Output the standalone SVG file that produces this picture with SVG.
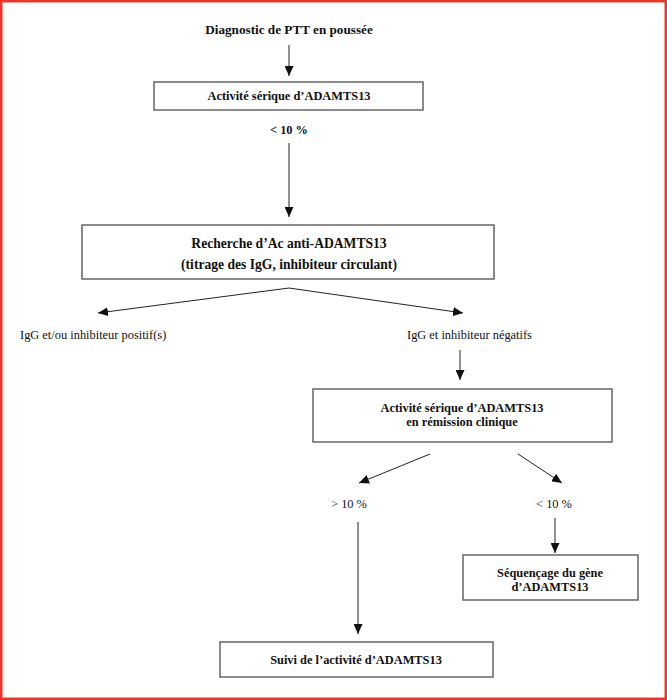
<svg xmlns="http://www.w3.org/2000/svg" width="667" height="700" viewBox="0 0 667 700">
<style>
.bt{font-family:"Liberation Serif","Times New Roman",serif;font-size:12.4px;font-weight:bold;fill:#111;text-anchor:middle}
.big{font-size:13.6px}
.rt{font-family:"Liberation Serif","Times New Roman",serif;font-size:12.4px;fill:#111}
.box{fill:#fff;stroke:#666;stroke-width:1.5}
.ln{stroke:#222;stroke-width:1;fill:none;marker-end:url(#ah)}
</style>
<defs>
<marker id="ah" markerUnits="userSpaceOnUse" markerWidth="10" markerHeight="9" refX="10" refY="4.5" orient="auto">
<path d="M0,0 L10,4.5 L0,9 z" fill="#111"/>
</marker>
</defs>
<rect x="0" y="0" width="667" height="700" fill="#fff"/>
<rect x="1.25" y="1.25" width="664.5" height="697.5" fill="none" stroke="#e8372c" stroke-width="2.5"/>
<g id="connectors">
<line class="ln" x1="289" y1="45" x2="289" y2="76"/>
<line class="ln" x1="289" y1="143" x2="289" y2="217"/>
<line class="ln" x1="289" y1="288" x2="98" y2="313"/>
<line class="ln" x1="289" y1="288" x2="463" y2="313"/>
<line class="ln" x1="460" y1="350" x2="460" y2="380"/>
<line class="ln" x1="430" y1="454" x2="359" y2="483"/>
<line class="ln" x1="518" y1="454" x2="562" y2="483"/>
<line class="ln" x1="358" y1="522" x2="358" y2="634"/>
<line class="ln" x1="555" y1="518" x2="555" y2="553"/>
</g>
<g id="start"><text class="bt" x="289" y="34" style="font-size:13.2px">Diagnostic de PTT en poussée</text></g>
<g id="activite1"><rect class="box" x="154" y="82" width="269" height="28"/><text class="bt" x="289" y="100">Activité sérique d’ADAMTS13</text></g>
<g id="lt10a"><text class="bt" x="289" y="134">&lt; 10 %</text></g>
<g id="recherche"><rect class="box" x="82" y="225" width="412" height="54"/><text class="bt big" x="289" y="248">Recherche d’Ac anti-ADAMTS13</text><text class="bt big" x="289" y="269">(titrage des IgG, inhibiteur circulant)</text></g>
<g id="positif"><text class="rt" x="20" y="339">IgG et/ou inhibiteur positif(s)</text></g>
<g id="negatif"><text class="rt" x="407" y="339">IgG et inhibiteur négatifs</text></g>
<g id="activite2"><rect class="box" x="313" y="389" width="299" height="53"/><text class="bt" x="462" y="412">Activité sérique d’ADAMTS13</text><text class="bt" x="462" y="426">en rémission clinique</text></g>
<g id="gt10"><text class="rt" x="349" y="508" text-anchor="middle">&gt; 10 %</text></g>
<g id="lt10b"><text class="rt" x="554" y="508" text-anchor="middle">&lt; 10 %</text></g>
<g id="sequencage"><rect class="box" x="463" y="555" width="175" height="45"/><text class="bt" x="550" y="577">Séquençage du gène</text><text class="bt" x="550" y="591">d’ADAMTS13</text></g>
<g id="suivi"><rect class="box" x="220" y="642" width="273" height="35"/><text class="bt" x="356" y="664">Suivi de l’activité d’ADAMTS13</text></g>
</svg>
